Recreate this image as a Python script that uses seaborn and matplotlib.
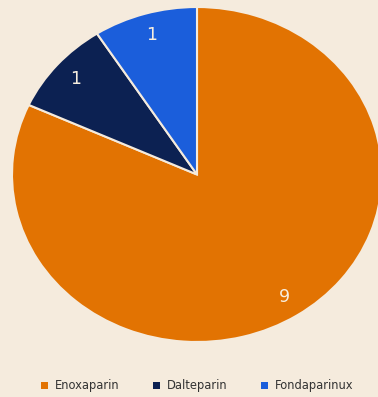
import matplotlib
matplotlib.use("Agg")
import matplotlib.pyplot as plt
import seaborn as sns

# Anticoagulant use counts
drugs = ["Enoxaparin", "Dalteparin", "Fondaparinux"]
counts = [9, 1, 1]
colors = ["#E27302", "#0C2152", "#1B5EDB"]

BG = "#F5EBDD"

sns.set_theme(style="white")
plt.rcParams["font.family"] = ["DejaVu Sans"]

W, H = 378, 397
fig = plt.figure(figsize=(W / 100, H / 100), dpi=100, facecolor=BG)

# pie area in pixel coordinates (left, top, right, bottom)
px_l, px_t, px_r, px_b = 12, 7, 382, 342
ax = fig.add_axes([px_l / W, 1 - px_b / H, (px_r - px_l) / W, (px_b - px_t) / H])
ax.set_facecolor(BG)

total = sum(counts)
wedges, texts, autotexts = ax.pie(
    counts,
    colors=colors,
    startangle=90,
    counterclock=False,
    autopct=lambda p: f"{round(p * total / 100)}",
    pctdistance=0.87,
    wedgeprops=dict(edgecolor="#F5EBDD", linewidth=1.5),
    textprops=dict(color="#F7EEDF", fontsize=12.5),
)
ax.set_xlim(-1, 1)
ax.set_ylim(-1, 1)
ax.set_aspect("auto")
ax.axis("off")

leg = fig.legend(
    wedges,
    drugs,
    loc="center",
    bbox_to_anchor=(197 / W, 1 - 386 / H),
    ncol=3,
    frameon=False,
    fontsize=8.3,
    handlelength=0.6,
    handleheight=0.6,
    handletextpad=0.6,
    columnspacing=2.9,
    labelcolor="#333333",
)
for h in leg.legend_handles:
    h.set_edgecolor("none")

fig.savefig("out.png", dpi=100, facecolor=BG)
